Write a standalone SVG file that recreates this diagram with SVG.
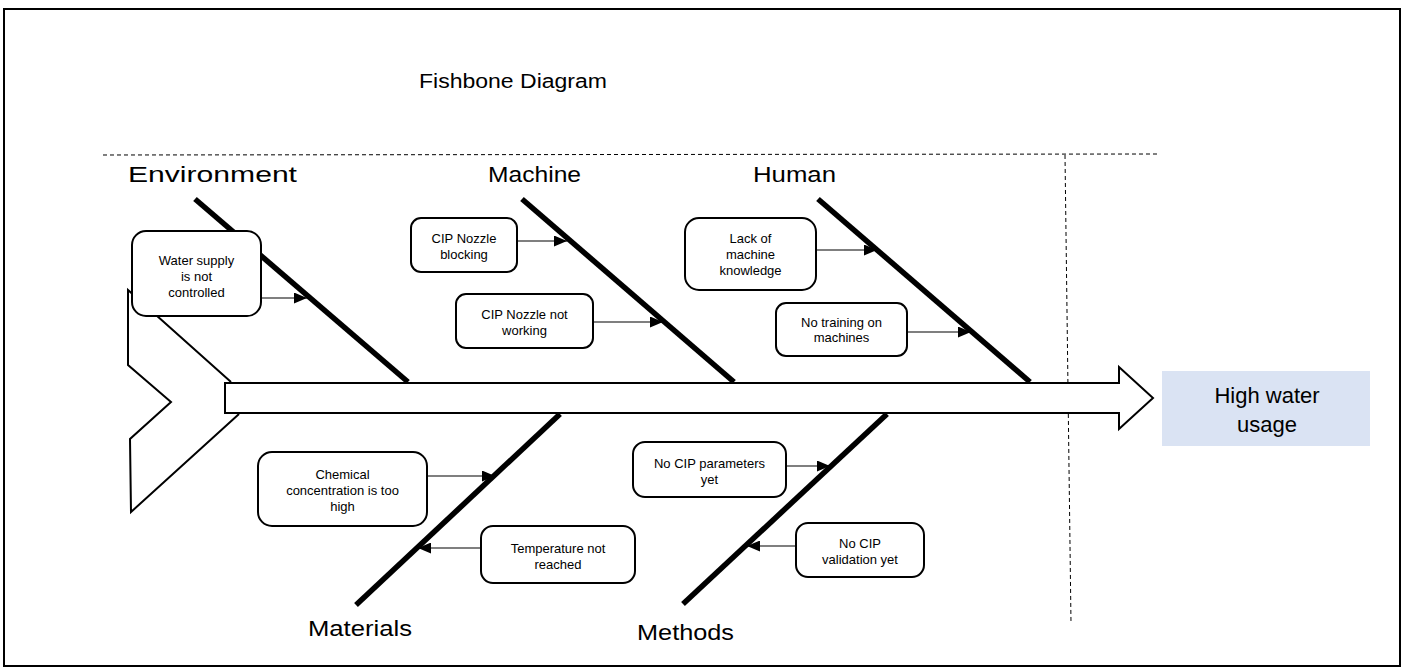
<svg xmlns="http://www.w3.org/2000/svg" width="1405" height="667" viewBox="0 0 1405 667">
<style>
  .frame{fill:none;stroke:#000;stroke-width:2}
  .dash{fill:none;stroke:#000;stroke-width:1;stroke-dasharray:4,3}
  .bone{stroke:#000;stroke-width:5.5;stroke-linecap:butt}
  .box{fill:#fff;stroke:#000;stroke-width:2}
  .arrowline{stroke:#000;stroke-width:1.2;fill:none}
  .small{font-family:"Liberation Sans",Arial,sans-serif;font-size:13px;fill:#000;text-anchor:middle}
  .cat{font-family:"Liberation Sans",Arial,sans-serif;font-size:22px;fill:#000}
  .title{font-family:"Liberation Sans",Arial,sans-serif;font-size:20px;fill:#000}
  .effect{font-family:"Liberation Sans",Arial,sans-serif;font-size:22px;fill:#000;text-anchor:middle}
  .spine{fill:#fff;stroke:#000;stroke-width:2;stroke-linejoin:miter}
</style>
<defs>
  <marker id="ah" markerUnits="userSpaceOnUse" markerWidth="13" markerHeight="11" refX="13" refY="5.5" orient="auto">
    <path d="M0,0 L13,5.5 L0,11 Z" fill="#000"/>
  </marker>
</defs>
<rect x="0" y="0" width="1405" height="667" fill="#fff"/>
<rect class="frame" x="4" y="9" width="1396" height="657"/>
<text class="title" x="419" y="88" textLength="188" lengthAdjust="spacingAndGlyphs">Fishbone Diagram</text>
<g id="guides">
  <line class="dash" x1="103" y1="155" x2="1160" y2="154"/>
  <line class="dash" x1="1065" y1="155" x2="1071" y2="623"/>
</g>
<g id="labels">
  <text class="cat" x="128" y="182" textLength="169" lengthAdjust="spacingAndGlyphs">Environment</text>
  <text class="cat" x="488" y="182" textLength="93" lengthAdjust="spacingAndGlyphs">Machine</text>
  <text class="cat" x="753" y="182" textLength="83" lengthAdjust="spacingAndGlyphs">Human</text>
  <text class="cat" x="308" y="636" textLength="104" lengthAdjust="spacingAndGlyphs">Materials</text>
  <text class="cat" x="637" y="640" textLength="97" lengthAdjust="spacingAndGlyphs">Methods</text>
</g>
<g id="tail">
  <polyline class="spine" points="231,382 128,290 128,365 171,402 130,439 131,512 239,414"/>
</g>
<g id="bones">
  <line class="bone" x1="195" y1="199" x2="408" y2="382"/>
  <line class="bone" x1="522" y1="199" x2="734" y2="382"/>
  <line class="bone" x1="818" y1="199" x2="1030" y2="382"/>
  <line class="bone" x1="560" y1="414" x2="356" y2="605"/>
  <line class="bone" x1="887" y1="414" x2="683" y2="604"/>
</g>
<g id="spine">
  <path class="spine" d="M225,383 H1119 V367 L1153,398 L1119,429 V413 H225 Z"/>
</g>
<g id="connectors">
  <line class="arrowline" x1="261" y1="298" x2="307" y2="298" marker-end="url(#ah)"/>
  <line class="arrowline" x1="517" y1="241" x2="567" y2="241" marker-end="url(#ah)"/>
  <line class="arrowline" x1="593" y1="322" x2="663" y2="322" marker-end="url(#ah)"/>
  <line class="arrowline" x1="816" y1="250" x2="877" y2="250" marker-end="url(#ah)"/>
  <line class="arrowline" x1="907" y1="332" x2="971" y2="332" marker-end="url(#ah)"/>
  <line class="arrowline" x1="427" y1="476" x2="495" y2="476" marker-end="url(#ah)"/>
  <line class="arrowline" x1="481" y1="548" x2="418" y2="548" marker-end="url(#ah)"/>
  <line class="arrowline" x1="786" y1="466" x2="830" y2="466" marker-end="url(#ah)"/>
  <line class="arrowline" x1="796" y1="546" x2="747" y2="546" marker-end="url(#ah)"/>
</g>
<g id="n-water">
  <rect class="box" x="132" y="231" width="129" height="85" rx="14"/>
  <text class="small" x="196.5" y="265">Water supply</text>
  <text class="small" x="196.5" y="281">is not</text>
  <text class="small" x="196.5" y="297">controlled</text>
</g>
<g id="n-blocking">
  <rect class="box" x="411" y="218" width="106" height="54" rx="10"/>
  <text class="small" x="464" y="243">CIP Nozzle</text>
  <text class="small" x="464" y="259">blocking</text>
</g>
<g id="n-notworking">
  <rect class="box" x="456" y="294" width="137" height="54" rx="10"/>
  <text class="small" x="524.5" y="319">CIP Nozzle not</text>
  <text class="small" x="524.5" y="335">working</text>
</g>
<g id="n-knowledge">
  <rect class="box" x="685" y="218" width="131" height="72" rx="14"/>
  <text class="small" x="750.5" y="243">Lack of</text>
  <text class="small" x="750.5" y="259">machine</text>
  <text class="small" x="750.5" y="275">knowledge</text>
</g>
<g id="n-training">
  <rect class="box" x="776" y="303" width="131" height="53" rx="10"/>
  <text class="small" x="841.5" y="327">No training on</text>
  <text class="small" x="841.5" y="342">machines</text>
</g>
<g id="n-chemical">
  <rect class="box" x="258" y="452" width="169" height="74" rx="14"/>
  <text class="small" x="342.5" y="479">Chemical</text>
  <text class="small" x="342.5" y="495">concentration is too</text>
  <text class="small" x="342.5" y="511">high</text>
</g>
<g id="n-temperature">
  <rect class="box" x="481" y="526" width="154" height="57" rx="12"/>
  <text class="small" x="558" y="553">Temperature not</text>
  <text class="small" x="558" y="569">reached</text>
</g>
<g id="n-parameters">
  <rect class="box" x="633" y="442" width="153" height="55" rx="12"/>
  <text class="small" x="709.5" y="468">No CIP parameters</text>
  <text class="small" x="709.5" y="484">yet</text>
</g>
<g id="n-validation">
  <rect class="box" x="796" y="523" width="128" height="54" rx="12"/>
  <text class="small" x="860" y="548">No CIP</text>
  <text class="small" x="860" y="564">validation yet</text>
</g>
<g id="n-effect">
  <rect x="1162" y="371" width="208" height="75" fill="#DAE3F3"/>
  <text class="effect" x="1267" y="403">High water</text>
  <text class="effect" x="1267" y="432">usage</text>
</g>
</svg>
